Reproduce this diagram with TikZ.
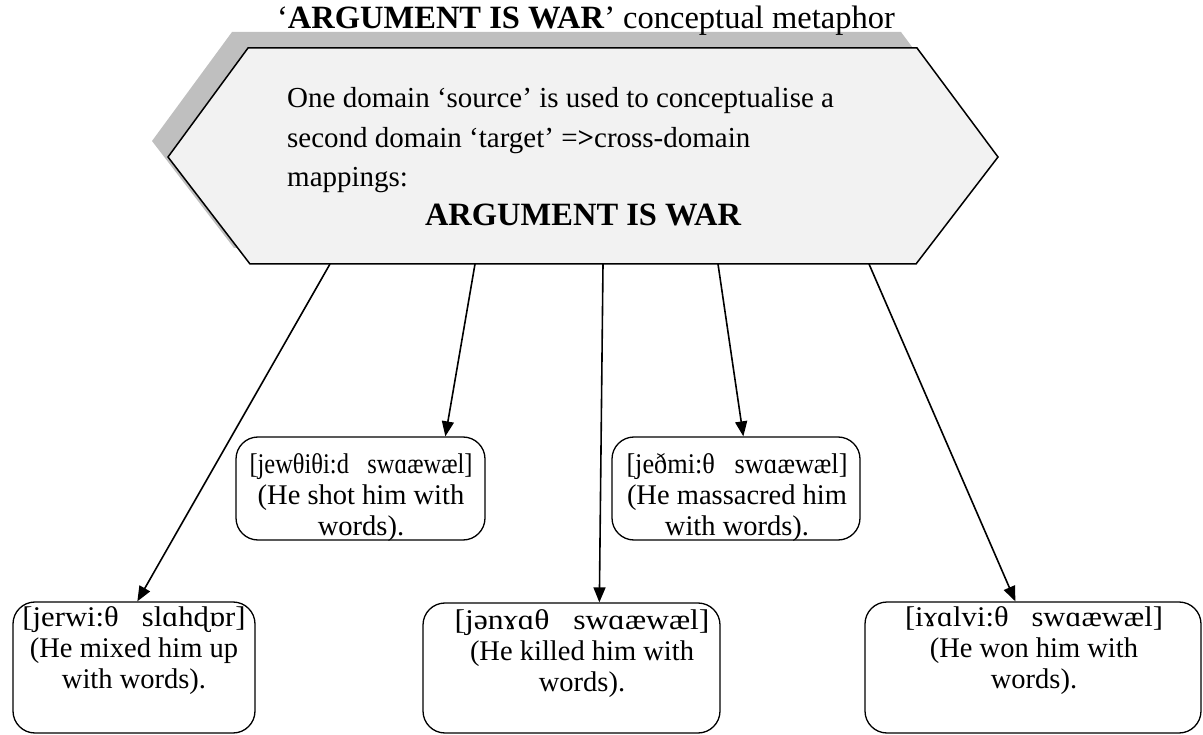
\documentclass[tikz,border=0pt]{standalone}
\usepackage{fontspec}
\usepackage{graphicx}
\setmainfont{Liberation Serif}
\usetikzlibrary{arrows.meta,calc}
\definecolor{hexfill}{HTML}{F2F2F2}
\definecolor{hexshade}{HTML}{BFBFBF}
% transcription line set to a given width at the body size
\newcommand{\ipaline}[2]{\resizebox{#1}{\height}{#2}}
\begin{document}
\begin{tikzpicture}[x=1pt,y=-1pt,
  hexagonline/.style={draw=black,line width=1.5pt,line join=miter,fill=hexfill},
  hexagonshade/.style={fill=hexshade,draw=none},
  box/.style={draw=black,line width=1.3pt,rounded corners=22pt,inner sep=0pt},
  boxtext/.style={align=center,inner sep=0pt,font=\fontsize{28.5}{31}\selectfont},
  bodytext/.style={anchor=base west,inner sep=0pt,font=\fontsize{29}{29}\selectfont},
  conn/.style={line width=1.6pt,-{Triangle[length=15pt,width=12pt]}}
]
\useasboundingbox (0,0) rectangle (1203,735);

% shadow behind the hexagon
\path[hexagonshade] (232,32) -- (901,32) -- (982,141) -- (900,248) -- (234,248) -- (152,141) -- cycle;

% hexagon corners
\coordinate (h1) at (248,48);
\coordinate (h2) at (917,48);
\coordinate (h3) at (998,157);
\coordinate (h4) at (916,264);
\coordinate (h5) at (250,264);
\coordinate (h6) at (168,157);
\path[hexagonline] (h1) -- (h2) -- (h3) -- (h4) -- (h5) -- (h6) -- cycle;

% title
\node[anchor=base,inner sep=0pt,font=\fontsize{32.5}{32.5}\selectfont] (title) at (586,29)
  {‘\textbf{ARGUMENT IS WAR}’ conceptual metaphor};

\node[bodytext] (l1) at (287,108) {One domain ‘source’ is used to conceptualise a};
\node[bodytext] (l2) at (287,148) {second domain ‘target’ =\textbf{>}cross-domain};
\node[bodytext] (l3) at (287,187) {mappings:};
\node[anchor=base,inner sep=0pt,font=\fontsize{32.5}{32.5}\selectfont\bfseries] (l4) at (583,226) {ARGUMENT IS WAR};

% boxes
\node[box,minimum width=242pt,minimum height=131pt] (b1) at (134,667.5) {};
\node[box,minimum width=249pt,minimum height=103pt] (b2) at (360.5,488.5) {};
\node[box,minimum width=248pt,minimum height=103pt] (b3) at (736,488.5) {};
\node[box,minimum width=297pt,minimum height=130pt] (b4) at (571.5,668) {};
\node[box,minimum width=336pt,minimum height=131pt] (b5) at (1033,667.5) {};

\node[boxtext] (t1) at (134,651) {\ipaline{223pt}{[jerwi:θ~~~slɑhɖɒr]}\\(He mixed him up\\with words).};
\node[boxtext] (t2) at (361,497.5) {\ipaline{223pt}{[jewθiθi:d~~~swɑæwæl]}\\(He shot him with\\words).};
\node[boxtext] (t3) at (737,497.5) {\ipaline{221pt}{[jeðmi:θ~~~swɑæwæl]}\\(He massacred him\\with words).};
\node[boxtext] (t4) at (582,654) {\ipaline{255pt}{[jənɤɑθ~~~swɑæwæl]}\\(He killed him with\\words).};
\node[boxtext] (t5) at (1034,651) {\ipaline{258pt}{[iɤɑlvi:θ~~~swɑæwæl]}\\(He won him with\\words).};

% connectors from the hexagon's lower edge to the boxes
\coordinate (s1) at (330,264);
\coordinate (s2) at (475,264);
\coordinate (s3) at (603,264);
\coordinate (s4) at (718,264);
\coordinate (s5) at (869,264);

\draw[conn] (s1) -- ($(b1.north west)+(125,0)$);
\draw[conn] (s2) -- ($(b2.north west)+(210,0)$);
\draw[conn] (s3) -- ($(b4.north west)+(177,0)$);
\draw[conn] (s4) -- ($(b3.north west)+(132,0)$);
\draw[conn] (s5) -- ($(b5.north west)+(151,0)$);
\end{tikzpicture}
\end{document}
